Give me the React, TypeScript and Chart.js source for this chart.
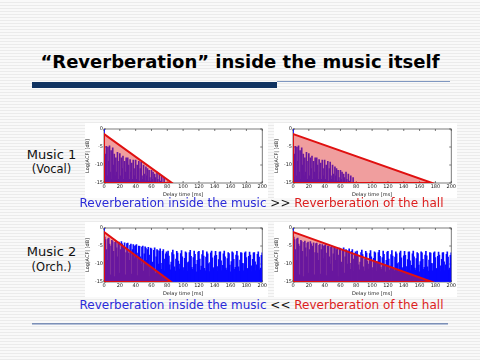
import React, { useEffect, useRef } from "react";
import { Chart, registerables } from "chart.js";

Chart.register(...registerables);

// ---------- data ----------
const xTicks = [0, 20, 40, 60, 80, 100, 120, 140, 160, 180, 200];
const yTicks = [0, -5, -10, -15];

// Music 1 (vocal) log|ACF| in dB, one value per ms of delay (0 .. 79 ms)
const music1Acf = [
  0, -11, -7, -4.8, -13, -5, -9, -4.7, -12, -6,
  -14, -5.2, -10, -7, -13, -8, -12, -6.5, -14, -9,
  -6.8, -13, -8, -11, -7.5, -14, -9, -12, -8, -13.5,
  -8, -10, -14, -8.5, -12, -9.5, -14, -8.6, -11, -13,
  -8.6, -14, -10, -12, -9, -14.5, -11, -9.2, -13, -14,
  -10, -12.5, -14.5, -10.5, -13, -11, -14.5, -11.5, -13.5, -14.5,
  -11.5, -14, -12, -15, -12.5, -13.5, -15, -12, -14, -15,
  -12.5, -14.5, -15, -13, -15, -15, -13.5, -15, -15, -15,
];

// Music 2 (orchestra) log|ACF| in dB, one value per ms of delay (0 .. 200 ms)
const music2Acf = [
  0, -2.5, -3.2, -6, -9, -3, -2.8, -4.5, -13, -5,
  -3.4, -3.8, -6.5, -13.5, -4, -3.6, -5.5, -8, -4.2, -3.9,
  -12.5, -6, -3.8, -4.4, -7.5, -5, -4.1, -13, -6.8, -4.3,
  -4.2, -7, -9, -4.8, -4.5, -12.8, -6, -4.6, -5, -8.5,
  -4.9, -4.6, -13.2, -7, -5, -5.1, -8, -10, -5.3, -5,
  -12, -7.2, -5.2, -5.6, -9, -6, -5.4, -13.5, -7.5, -5.6,
  -5.8, -9.5, -11, -6.2, -5.5, -12.5, -8, -6, -6.3, -10,
  -6.4, -5.8, -9.8, -11.5, -6.5, -6, -8.6, -12, -7.2, -6.6,
  -7.2, -6.4, -7.8, -10.2, -11.6, -9.5, -6.8, -6.1, -7.4, -10.8,
  -12, -8.6, -6.5, -7, -9.2, -11.4, -10, -7.1, -6.3, -8,
  -11, -11.8, -8.4, -6.6, -6.9, -9.6, -12, -9.4, -6.8, -6.2,
  -7.9, -10.9, -11.5, -8.2, -6.4, -7.3, -10.1, -12.2, -9, -6.7,
  -6.5, -8.6, -11.7, -10.6, -7.4, -6.3, -7.8, -11.2, -11.9, -8.1,
  -6.6, -7.2, -9.9, -12.1, -9.6, -6.9, -6.4, -8.3, -11.3, -11,
  -7.7, -6.5, -7.6, -10.7, -12, -8.8, -6.7, -6.6, -9.1, -11.8,
  -10.4, -7.2, -6.4, -8, -11.1, -11.7, -8.5, -6.8, -7.1, -10.3,
  -12.2, -9.3, -6.6, -6.9, -8.7, -11.5, -10.9, -7.5, -6.5, -7.7,
  -10.8, -12, -8.9, -6.8, -7, -9.8, -11.9, -9.9, -6.9, -6.6,
  -8.2, -11.4, -11.2, -7.9, -6.7, -7.5, -10.5, -12.1, -8.7, -6.9,
  -6.8, -9.4, -11.8, -10.2, -7.3, -6.6, -8.1, -11.6, -11.1, -7.6,
  -6.9,
];

// Hall reverberation decay lines (start level in dB at 0 ms, end delay in ms at -15 dB)
const hallStartDb = [-1.4, -1.4, -1.1, -1.1];
const hallEndMs = [86, 176, 85, 176];

// ---------- chart ----------
const framePlugin = {
  id: "matlabFrame",
  beforeDatasetsDraw(chart: any) {
    const { ctx, chartArea, scales } = chart;
    ctx.save();
    ctx.strokeStyle = "#444";
    ctx.lineWidth = 0.7;
    ctx.strokeRect(chartArea.left, chartArea.top, chartArea.right - chartArea.left, chartArea.bottom - chartArea.top);
    ctx.beginPath();
    xTicks.forEach((t) => {
      const px = scales.x.getPixelForValue(t);
      ctx.moveTo(px, chartArea.bottom);
      ctx.lineTo(px, chartArea.bottom - 2);
      ctx.moveTo(px, chartArea.top);
      ctx.lineTo(px, chartArea.top + 2);
    });
    yTicks.forEach((t) => {
      const py = scales.y.getPixelForValue(t);
      ctx.moveTo(chartArea.left, py);
      ctx.lineTo(chartArea.left + 2, py);
      ctx.moveTo(chartArea.right, py);
      ctx.lineTo(chartArea.right - 2, py);
    });
    ctx.stroke();
    ctx.restore();
  },
};

function AcfChart({ acf, startDb, endMs }: { acf: number[]; startDb: number; endMs: number }) {
  const ref = useRef<HTMLCanvasElement | null>(null);
  useEffect(() => {
    if (!ref.current) return;
    const tickFont = { family: "DejaVu Sans", size: 5 };
    const chart = new Chart(ref.current, {
      type: "bar",
      data: {
        datasets: [
          {
            type: "line",
            data: [
              { x: 0, y: -15 },
              { x: 0, y: startDb },
              { x: endMs, y: -15 },
              { x: 0, y: -15 },
            ],
            borderColor: "#e01010",
            borderWidth: 2,
            pointRadius: 0,
            fill: false,
            order: 0,
          } as any,
          {
            type: "line",
            data: [
              { x: 0, y: startDb },
              { x: endMs, y: -15 },
            ],
            borderWidth: 0,
            borderColor: "rgba(0,0,0,0)",
            backgroundColor: "rgba(222,40,40,0.45)",
            pointRadius: 0,
            fill: "start",
            order: 1,
          } as any,
          {
            type: "bar",
            data: acf.map((v, i) => ({ x: i, y: v })),
            base: -15,
            backgroundColor: "#0a0aff",
            borderWidth: 0,
            barThickness: 1,
            order: 2,
          } as any,
        ],
      },
      options: {
        animation: false,
        responsive: false,
        events: [],
        layout: { padding: { top: 6, right: 5, left: 0, bottom: 0 } },
        plugins: { legend: { display: false }, tooltip: { enabled: false } },
        scales: {
          x: {
            type: "linear",
            min: 0,
            max: 200,
            offset: false,
            afterBuildTicks: (s: any) => {
              s.ticks = xTicks.map((v) => ({ value: v }));
            },
            ticks: { font: tickFont, color: "#222", padding: 1, maxRotation: 0, autoSkip: false },
            grid: { drawOnChartArea: false, drawTicks: false },
            border: { display: false },
            title: { display: true, text: "Delay time [ms]", font: tickFont, color: "#222", padding: 0 },
            afterFit: (s: any) => {
              s.height = 15;
            },
          },
          y: {
            type: "linear",
            min: -15,
            max: 0,
            afterBuildTicks: (s: any) => {
              s.ticks = yTicks.map((v) => ({ value: v }));
            },
            ticks: { font: tickFont, color: "#222", padding: 1 },
            grid: { drawOnChartArea: false, drawTicks: false },
            border: { display: false },
            title: { display: true, text: "Log|ACF| [dB]", font: tickFont, color: "#222", padding: 0 },
            afterFit: (s: any) => {
              s.width = 19;
            },
          },
        },
      },
      plugins: [framePlugin],
    } as any);
    return () => chart.destroy();
  }, [acf, startDb, endMs]);
  return <canvas ref={ref} width={183} height={75} style={{ display: "block", background: "#fff" }} />;
}

const abs = (l: number, t: number): React.CSSProperties => ({ position: "absolute", left: l, top: t });

export default function App() {
  const font = "'DejaVu Sans', Verdana, sans-serif";
  const label = (text: string, cx: number, cy: number, size: number) => (
    <div
      style={{
        position: "absolute",
        left: cx - 60,
        width: 120,
        top: cy - size * 0.6,
        textAlign: "center",
        fontSize: size,
        lineHeight: `${size * 1.2}px`,
        whiteSpace: "nowrap",
        color: "#111",
      }}
    >
      {text}
    </div>
  );
  const caption = (op: string, cy: number) => (
    <div
      style={{
        position: "absolute",
        left: 0,
        width: 523,
        top: cy - 8,
        textAlign: "center",
        fontSize: 12,
        lineHeight: "16px",
        whiteSpace: "nowrap",
      }}
    >
      <span style={{ color: "#2a2ad8" }}>Reverberation inside the music</span>
      <span style={{ color: "#111" }}> {op} </span>
      <span style={{ color: "#dc1e1e" }}>Reverberation of the hall</span>
    </div>
  );
  return (
    <div
      style={{
        position: "fixed",
        left: 0,
        top: 0,
        width: 480,
        height: 360,
        overflow: "hidden",
        fontFamily: font,
        background:
          "repeating-linear-gradient(to bottom, #f9f9f9 0px, #f9f9f9 2px, #ebebeb 2px, #ebebeb 3px)",
      }}
    >
      <div
        style={{
          position: "absolute",
          left: 0,
          width: 480,
          top: 50,
          textAlign: "center",
          fontSize: 18,
          fontWeight: "bold",
          lineHeight: "24px",
          color: "#000",
          whiteSpace: "nowrap",
        }}
      >
        “Reverberation” inside the music itself
      </div>
      <div style={{ ...abs(277, 81), width: 173, height: 1, background: "#7f97c0" }} />
      <div style={{ ...abs(32, 82), width: 245, height: 6, background: "#0f3260" }} />

      {label("Music 1", 51.5, 155, 13)}
      {label("(Vocal)", 51.5, 170, 11.5)}
      {label("Music 2", 51.5, 252, 13)}
      {label("(Orch.)", 51.5, 268, 11.5)}

      <div style={abs(85, 123)}>
        <AcfChart acf={music1Acf} startDb={hallStartDb[0]} endMs={hallEndMs[0]} />
      </div>
      <div style={abs(274, 123)}>
        <AcfChart acf={music1Acf} startDb={hallStartDb[1]} endMs={hallEndMs[1]} />
      </div>
      <div style={abs(85, 222)}>
        <AcfChart acf={music2Acf} startDb={hallStartDb[2]} endMs={hallEndMs[2]} />
      </div>
      <div style={abs(274, 222)}>
        <AcfChart acf={music2Acf} startDb={hallStartDb[3]} endMs={hallEndMs[3]} />
      </div>

      {caption(">>", 203)}
      {caption("<<", 304.5)}

      <div style={{ ...abs(32, 323), width: 416, height: 1, background: "#7b8fb6" }} />
      <div style={{ ...abs(32, 324), width: 416, height: 1, background: "#b4c0d8" }} />
    </div>
  );
}
